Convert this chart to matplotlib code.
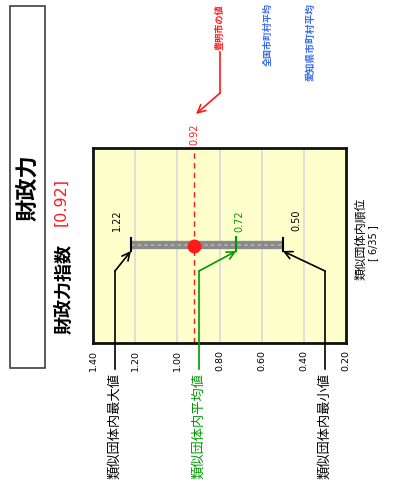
import matplotlib
matplotlib.use("Agg")
import matplotlib.pyplot as plt
import matplotlib.transforms as mtransforms
from matplotlib.patches import Rectangle
from matplotlib.lines import Line2D

plt.rcParams['font.family'] = ['Noto Sans CJK JP', 'DejaVu Sans']

# ---- data ----
title = "財政力"
indicator = "財政力指数"
city_value = 0.92
city_label = "[0.92]"
group_max = 1.22
group_avg = 0.72
group_min = 0.50
tick_values = [1.40, 1.20, 1.00, 0.80, 0.60, 0.40, 0.20]
tick_labels = ["1.40", "1.20", "1.00", "0.80", "0.60", "0.40", "0.20"]
rank_title = "類似団体内順位"
rank_text = "[ 6/35 ]"
city_name_note = "豊明市の値"
national_note = "全国市町村平均"
pref_note = "愛知県市町村平均"
max_note = "類似団体内最大値"
avg_note = "類似団体内平均値"
min_note = "類似団体内最小値"

W, H = 398, 494
fig = plt.figure(figsize=(W / 100, H / 100), dpi=100)
fig.patch.set_facecolor('white')
# pixel coordinates (origin top-left)
T = mtransforms.Affine2D().scale(1 / W, -1 / H).translate(0, 1) + fig.transFigure

NUM = ['DejaVu Sans']
RED = '#ff1a1a'
GREEN = '#009900'
BLUE = '#3a6cf0'

# title box
fig.patches.append(Rectangle((10, 6), 35, 362, transform=T, fill=False,
                             edgecolor='#404040', lw=1.2))
fig.text(28, 188, title, transform=T, rotation=90, ha='center', va='center',
         fontsize=16, fontweight='bold')
fig.text(64, 289, indicator, transform=T, rotation=90, ha='center', va='center',
         fontsize=13, fontweight='bold')
fig.text(61, 202, city_label, transform=T, rotation=90, ha='center', va='center',
         fontsize=11.5, color=RED, family=NUM)

# axes
ax = fig.add_axes([93 / W, 1 - 343 / H, 253 / W, 195 / H])
ax.set_facecolor('#ffffcc')
ax.set_xlim(1.40, 0.20)
ax.set_ylim(343, 148)
ax.set_xticks(tick_values)
ax.set_xticklabels(tick_labels, rotation=90, fontsize=6.8, family=NUM)
ax.set_yticks([])
ax.tick_params(axis='x', length=0, pad=5)
for v in tick_values[1:-1]:
    ax.axvline(v, color='#dcdcdc', lw=1.3, zorder=1)
for s in ax.spines.values():
    s.set_linewidth(2)
    s.set_color('#111111')

row = 245
ax.plot([group_max, group_min], [row, row], color='#8a8a8a', lw=6,
        solid_capstyle='butt', zorder=3)
ax.plot([group_max, group_min], [row, row], color='#b5b5b5', lw=1.2,
        ls=(0, (2, 2)), zorder=4)
ax.plot([group_max, group_max], [238, 251], color='black', lw=1.5, zorder=5)
ax.plot([group_min, group_min], [238, 251], color='black', lw=1.5, zorder=5)
ax.plot([group_avg, group_avg], [237, 251], color=GREEN, lw=1.5, zorder=5)
ax.axvline(city_value, color=RED, lw=1, ls=(0, (4, 3)), zorder=2)
ax.plot([city_value], [246], 'o', color=RED, ms=9, zorder=6)

ax.annotate(f"{group_max:.2f}", xy=(group_max, row), xytext=(-14, 25),
            textcoords='offset pixels', rotation=90, ha='center', va='center',
            fontsize=7, family=NUM)
ax.annotate(f"{group_avg:.2f}", xy=(group_avg, row), xytext=(3, 24),
            textcoords='offset pixels', rotation=90, ha='center', va='center',
            fontsize=7, family=NUM, color=GREEN)
ax.annotate(f"{group_min:.2f}", xy=(group_min, row), xytext=(14, 25),
            textcoords='offset pixels', rotation=90, ha='center', va='center',
            fontsize=7, family=NUM)
ax.annotate(f"{city_value:.2f}", xy=(city_value, 148), xytext=(0, 14),
            textcoords='offset pixels', rotation=90, ha='center', va='center',
            fontsize=7, family=NUM, color=RED, annotation_clip=False)

# red pointer from top note
fig.lines.append(Line2D([220, 220], [52, 93], transform=T, color=RED, lw=1.2))
fig.text(220, 50, city_name_note, transform=T, rotation=90, ha='center',
         va='bottom', fontsize=6.6, color=RED, fontweight='bold')
ax.annotate('', xy=(196, 114), xycoords=T, xytext=(220, 93), textcoords=T,
            arrowprops=dict(arrowstyle='->', color=RED, lw=1.2, mutation_scale=14,
                            shrinkA=0, shrinkB=0), annotation_clip=False)

# blue notes
fig.text(268, 66, national_note, transform=T, rotation=90, ha='center', va='bottom',
         fontsize=6.5, color=BLUE, fontweight='bold')
fig.text(310, 81, pref_note, transform=T, rotation=90, ha='center', va='bottom',
         fontsize=7, color=BLUE, fontweight='bold')

# rank
fig.text(361, 239, rank_title, transform=T, rotation=90, ha='center', va='center',
         fontsize=8.5)
fig.text(373, 243, rank_text, transform=T, rotation=90, ha='center', va='center',
         fontsize=7, family=NUM)

# bottom notes with pointers
notes = [(max_note, 115, group_max, 'black'),
         (avg_note, 199, group_avg, GREEN),
         (min_note, 325, group_min, 'black')]
for text, xp, val, col in notes:
    fig.text(xp, 373, text, transform=T, rotation=90, ha='center', va='top',
             fontsize=9.5, color=col)
    fig.lines.append(Line2D([xp, xp], [369, 271], transform=T, color=col, lw=1.2))
    ax.annotate('', xy=(val, 251), xycoords='data', xytext=(xp, 271), textcoords=T,
                arrowprops=dict(arrowstyle='->', color=col, lw=1.2, mutation_scale=14,
                                shrinkA=0, shrinkB=0), annotation_clip=False)

fig.savefig('out.png', dpi=100, facecolor='white')
